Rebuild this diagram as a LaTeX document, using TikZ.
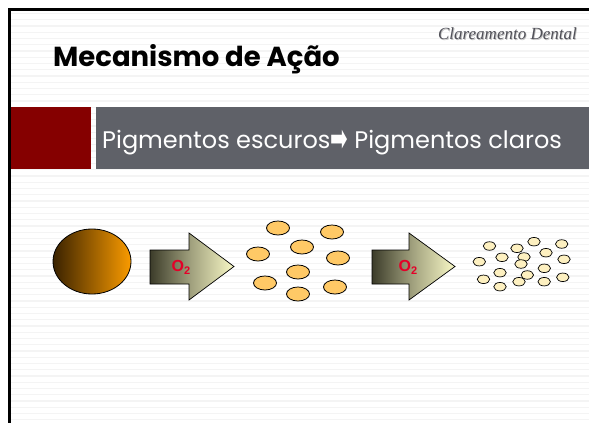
\documentclass[tikz,border=0pt]{standalone}
\usepackage{fontspec}
\usepackage{graphicx}
\setmainfont{Poppins}
\newfontfamily\dejavu{DejaVu Sans}
\newfontfamily\serifit{Liberation Serif}
\newfontfamily\arialf{Liberation Sans}
\usetikzlibrary{shapes.geometric}
\definecolor{bandred}{RGB}{133,0,0}
\definecolor{bandgray}{RGB}{95,97,104}
\definecolor{stripe}{RGB}{244,244,244}
\definecolor{medfill}{RGB}{255,201,102}
\definecolor{smallfill}{RGB}{253,240,192}
\definecolor{brownL}{RGB}{58,34,0}
\definecolor{brownR}{RGB}{250,155,0}
\definecolor{arrL}{RGB}{60,60,42}
\definecolor{arrR}{RGB}{248,248,198}
\definecolor{otwo}{RGB}{228,0,40}
\definecolor{subtitle}{RGB}{80,80,88}
\tikzset{
  medell/.style={ellipse, draw=black, line width=0.8pt, fill=medfill, minimum width=23pt, minimum height=14pt, inner sep=0pt},
  smallell/.style={ellipse, draw=black, line width=0.7pt, fill=smallfill, minimum width=12.5pt, minimum height=8.5pt, inner sep=0pt},
  bigarrow/.style={draw=black, line width=0.7pt, left color=arrL, right color=arrR, middle color=arrR!55!arrL, shading angle=90},
  otwolabel/.style={text=otwo, font=\arialf\bfseries\fontsize{16}{16}\selectfont, inner sep=0pt}
}
\begin{document}
\begin{tikzpicture}[x=1pt,y=-1pt]
\useasboundingbox (0,0) rectangle (589,423);
\fill[white] (0,0) rectangle (589,423);
% stripes
\foreach \k in {0,...,65} {
  \draw[stripe, line width=1.3pt] (11,{13.5+6.25*\k}) -- (589,{13.5+6.25*\k});
}
% frame
\draw[black, line width=3pt] (9.5,423) -- (9.5,9.5) -- (589,9.5);
% header texts
\node[anchor=base east, inner sep=0pt, text=black!25, font=\serifit\itshape\fontsize{17}{17}\selectfont] at (577.8,40) {Clareamento Dental};
\node[anchor=base east, inner sep=0pt, text=subtitle, font=\serifit\itshape\fontsize{17}{17}\selectfont] (brand) at (577,39) {Clareamento Dental};
\node[anchor=base west, inner sep=0pt, font=\bfseries\fontsize{27.5}{27.5}\selectfont] (title) at (53,66) {Mecanismo de Ação};
% band
\fill[bandred] (11,107) rectangle (91,169);
\fill[bandgray] (96,107) rectangle (589,169);
\node[anchor=base west, inner sep=0pt, text=white, font=\fontsize{24}{24}\selectfont] (band) at (102,148.5) {Pigmentos escuros{\dejavu\fontsize{20}{20}\selectfont\raisebox{-0.25ex}{\scalebox{1.05}[1.9]{➡}}} Pigmentos claros};
% big pigment
\shade[draw=black, line width=0.8pt, left color=brownL, right color=brownR, shading angle=90] (92,261.5) ellipse [x radius=39, y radius=32.5];
\node[inner sep=0pt] (big) at (92,261.5) {};
% arrow 1
\path[bigarrow] (150,250) -- (189,250) -- (189,233) -- (234,266.5) -- (189,300) -- (189,284) -- (150,284) -- cycle;
\node[otwolabel] (o1) at (181,267) {O\raisebox{-0.35ex}{\fontsize{11}{11}\selectfont 2}};
% arrow 2
\path[bigarrow] (372,250) -- (409,250) -- (409,233) -- (455,266.5) -- (409,300) -- (409,284) -- (372,284) -- cycle;
\node[otwolabel] (o2) at (408,267) {O\raisebox{-0.35ex}{\fontsize{11}{11}\selectfont 2}};
% medium pigments
\foreach \n/\x/\y in {1/278/228,2/332/232,3/302/247,4/258/254,5/338/258,6/298/272,7/265/283,8/335/287,9/298/294} {
  \node[medell] (m\n) at (\x,\y) {};
}
% small pigments
\foreach \n/\x/\y in {1/489.5/246,2/517/248.3,3/534/241.7,4/561.7/244,5/479.3/261.7,6/502/257.3,7/524/257,8/546/252.7,9/564/259.3,10/521/264,11/500/272.7,12/544.3/268.3,13/527.3/275,14/483.5/279.3,15/519/281.7,16/544.2/281.7,17/562.8/277.3,18/500/286.7} {
  \node[smallell] (s\n) at (\x,\y) {};
}
\end{tikzpicture}
\end{document}
